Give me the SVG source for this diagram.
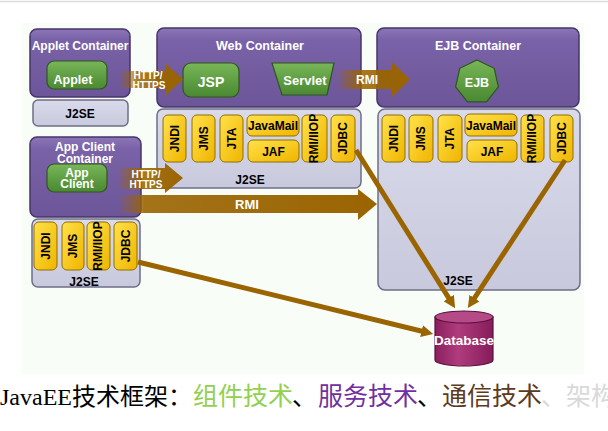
<svg xmlns="http://www.w3.org/2000/svg" width="608" height="431" viewBox="0 0 608 431">
<defs>
<linearGradient id="gPurple" x1="0" y1="0" x2="0" y2="1"><stop offset="0" stop-color="#8c76b6"/><stop offset="0.15" stop-color="#7a62a8"/><stop offset="1" stop-color="#6d5599"/></linearGradient>
<linearGradient id="gPanel" x1="0" y1="0" x2="0" y2="1"><stop offset="0" stop-color="#dadaec"/><stop offset="1" stop-color="#c9c9dd"/></linearGradient>
<linearGradient id="gChip" x1="0" y1="0" x2="1" y2="1"><stop offset="0" stop-color="#ffe24a"/><stop offset="1" stop-color="#f0b400"/></linearGradient>
<linearGradient id="gGreen" x1="0" y1="0" x2="0" y2="1"><stop offset="0" stop-color="#78b658"/><stop offset="1" stop-color="#4a8832"/></linearGradient>
<linearGradient id="gDb" x1="0" y1="0" x2="1" y2="0"><stop offset="0" stop-color="#8a1f5e"/><stop offset="0.4" stop-color="#b03c7c"/><stop offset="1" stop-color="#851c5a"/></linearGradient>
<linearGradient id="gArrow" x1="0" y1="0" x2="1" y2="0"><stop offset="0" stop-color="#9a6400" stop-opacity="0"/><stop offset="0.3" stop-color="#9a6400" stop-opacity="0.85"/><stop offset="1" stop-color="#9a6400"/></linearGradient>
<linearGradient id="gArrowLong" x1="0" y1="0" x2="1" y2="0"><stop offset="0" stop-color="#9a6400" stop-opacity="0"/><stop offset="0.1" stop-color="#9a6400" stop-opacity="0.9"/><stop offset="1" stop-color="#9a6400"/></linearGradient>
<marker id="ah" viewBox="0 0 10 10" refX="4" refY="5" markerWidth="12" markerHeight="12" markerUnits="userSpaceOnUse" orient="auto"><path d="M0,0 L10,5 L0,10 z" fill="#9a6400"/></marker>
<style>
.box{fill:url(#gPurple);stroke:#45356a;stroke-width:1.5}
.panel{fill:url(#gPanel);stroke:#6e6e88;stroke-width:1.5}
.chip{fill:url(#gChip);stroke:#8f6f00;stroke-width:1}
.btn{fill:url(#gGreen);stroke:#2e5620;stroke-width:1.2}
.wt{font-family:"Liberation Sans",Arial,sans-serif;font-weight:bold;fill:#fff;text-anchor:middle}
.bt{font-family:"Liberation Sans",Arial,sans-serif;font-weight:bold;fill:#000;text-anchor:middle}
.ct{font-family:"Liberation Sans",Arial,sans-serif;font-weight:bold;fill:#000;text-anchor:middle;font-size:12px}
.arr{fill:url(#gArrow)}
.jdbc{stroke:#9a6400;stroke-width:5;fill:none;marker-end:url(#ah)}
.cap{font-family:"Liberation Serif","Noto Sans CJK SC",serif;font-size:25px}
</style>
</defs>
<rect x="0" y="0" width="608" height="431" fill="#ffffff"/>
<line x1="0" y1="1.5" x2="608" y2="1.5" stroke="#dddddd" stroke-width="1.5"/>
<rect x="22" y="23" width="562" height="351" fill="#f8fdf7"/>

<g id="applet-container">
<rect class="box" x="30" y="29" width="100" height="68" rx="7"/>
<text class="wt" x="80" y="49.5" font-size="12">Applet Container</text>
<rect class="btn" x="47" y="61" width="60" height="28" rx="7"/>
<text class="wt" x="73" y="84" font-size="12.5">Applet</text>
<rect class="panel" x="33" y="100" width="95" height="26" rx="5"/>
<text class="bt" x="80" y="118" font-size="12">J2SE</text>
</g>

<g id="web-container">
<rect class="box" x="157" y="28" width="204" height="79" rx="7"/>
<text class="wt" x="260" y="49.5" font-size="12.5">Web Container</text>
<rect class="btn" x="183" y="63" width="56" height="34" rx="8"/>
<text class="wt" x="211" y="87" font-size="14">JSP</text>
<polygon class="btn" points="272,63 334,63 327,95 282,95"/>
<text class="wt" x="305" y="84.5" font-size="13">Servlet</text>
<rect class="panel" x="157" y="109" width="204" height="79" rx="6"/>
<rect class="chip" x="163" y="115" width="23" height="47" rx="5"/>
<text class="ct" font-size="12.5" transform="translate(174.5,138.5) rotate(-90)" dy="4.3">JNDI</text>
<rect class="chip" x="192" y="115" width="23" height="47" rx="5"/>
<text class="ct" transform="translate(203.5,138.5) rotate(-90)" dy="4.3">JMS</text>
<rect class="chip" x="220" y="115" width="23" height="47" rx="5"/>
<text class="ct" transform="translate(231.5,138.5) rotate(-90)" dy="4.3">JTA</text>
<rect class="chip" x="247" y="115" width="52" height="21" rx="5"/>
<text class="ct" font-size="12.5" x="273" y="130">JavaMail</text>
<rect class="chip" x="248" y="140" width="51" height="22" rx="5"/>
<text class="ct" x="273.5" y="155.5">JAF</text>
<rect class="chip" x="302" y="115" width="25" height="47" rx="5"/>
<text class="ct" font-size="10.5" transform="translate(314.5,138.5) rotate(-90)" dy="3.8">RMI/IIOP</text>
<rect class="chip" x="331" y="115" width="24" height="47" rx="5"/>
<text class="ct" transform="translate(343,138.5) rotate(-90)" dy="4.3">JDBC</text>
<text class="bt" x="250" y="183.5" font-size="12">J2SE</text>
</g>

<g id="ejb-container">
<rect class="box" x="377" y="28" width="202" height="79" rx="7"/>
<text class="wt" x="478" y="49.5" font-size="12.5">EJB Container</text>
<polygon class="btn" points="477,60 494.2,68.3 498.4,86.9 486.5,101.8 467.5,101.8 455.6,86.9 459.8,68.3"/>
<text class="wt" x="477" y="86.5" font-size="12.5">EJB</text>
<rect class="panel" x="378" y="109" width="202" height="181" rx="7"/>
<rect class="chip" x="382" y="115" width="23" height="47" rx="5"/>
<text class="ct" font-size="12.5" transform="translate(393.5,138.5) rotate(-90)" dy="4.3">JNDI</text>
<rect class="chip" x="409" y="115" width="24" height="47" rx="5"/>
<text class="ct" transform="translate(421,138.5) rotate(-90)" dy="4.3">JMS</text>
<rect class="chip" x="438" y="115" width="24" height="47" rx="5"/>
<text class="ct" transform="translate(450,138.5) rotate(-90)" dy="4.3">JTA</text>
<rect class="chip" x="465" y="114" width="52" height="22" rx="5"/>
<text class="ct" font-size="12.5" x="491" y="129.5">JavaMail</text>
<rect class="chip" x="467" y="140" width="50" height="22" rx="5"/>
<text class="ct" x="492" y="155.5">JAF</text>
<rect class="chip" x="521" y="115" width="23" height="47" rx="5"/>
<text class="ct" font-size="10.5" transform="translate(532.5,138.5) rotate(-90)" dy="3.8">RMI/IIOP</text>
<rect class="chip" x="550" y="115" width="23" height="47" rx="5"/>
<text class="ct" transform="translate(561.5,138.5) rotate(-90)" dy="4.3">JDBC</text>
<text class="bt" x="458" y="284.5" font-size="12">J2SE</text>
</g>

<g id="app-client-container">
<rect class="box" x="30" y="137" width="111" height="80" rx="7"/>
<text class="wt" x="85" y="151" font-size="12">App Client</text>
<text class="wt" x="85" y="162.5" font-size="12">Container</text>
<rect class="btn" x="47" y="164" width="60" height="28" rx="7"/>
<text class="wt" x="77" y="176.5" font-size="12">App</text>
<text class="wt" x="77" y="188" font-size="12">Client</text>
<rect class="panel" x="32" y="219" width="108" height="68" rx="6"/>
<rect class="chip" x="34" y="222" width="23" height="48" rx="5"/>
<text class="ct" font-size="12.5" transform="translate(45.5,246) rotate(-90)" dy="4.3">JNDI</text>
<rect class="chip" x="62" y="222" width="22" height="48" rx="5"/>
<text class="ct" transform="translate(73,246) rotate(-90)" dy="4.3">JMS</text>
<rect class="chip" x="87" y="222" width="23" height="48" rx="5"/>
<text class="ct" font-size="10.5" transform="translate(98.5,246) rotate(-90)" dy="3.8">RMI/IIOP</text>
<rect class="chip" x="114" y="222" width="23" height="48" rx="5"/>
<text class="ct" transform="translate(125.5,246) rotate(-90)" dy="4.3">JDBC</text>
<text class="bt" x="84" y="285.5" font-size="12">J2SE</text>
</g>

<g id="database">
<path d="M435,317 V360 A29,6 0 0 0 493,360 V317 Z" fill="url(#gDb)" stroke="#5a0f3e" stroke-width="1.2"/>
<ellipse cx="464" cy="317" rx="29" ry="6" fill="#b44a86" stroke="#5a0f3e" stroke-width="1.2"/>
<text class="wt" x="464" y="345" font-size="13.5">Database</text>
</g>

<g id="connectors">
<polygon class="arr" points="118,71 166,71 166,64 183,79.5 166,95 166,88 118,88"/>
<text class="wt" x="148" y="78.5" font-size="10">HTTP/</text>
<text class="wt" x="149" y="89" font-size="10">HTTPS</text>
<polygon class="arr" points="336,70 392,70 392,62 410,79.5 392,97 392,89 336,89"/>
<text class="wt" x="367" y="84" font-size="12">RMI</text>
<polygon class="arr" points="117,168 165,168 165,163 183,178 165,193 165,189 117,189"/>
<text class="wt" x="146" y="178" font-size="10">HTTP/</text>
<text class="wt" x="146" y="188" font-size="10">HTTPS</text>
<polygon fill="url(#gArrowLong)" points="118,195 358,195 358,189 377,204 358,220 358,213 118,213"/>
<text class="wt" x="247" y="208.5" font-size="13">RMI</text>
<path class="jdbc" d="M356,150 L451.3,302.1"/>
<path class="jdbc" d="M565,160 L471.8,302.1"/>
<path class="jdbc" d="M138,262 L426.2,332.3"/>
</g>

<text class="cap" y="405"><tspan x="0" fill="#000000" font-size="24">JavaEE技术框架：</tspan><tspan x="193" fill="#92d050">组件技术</tspan><tspan x="292" fill="#000000">、</tspan><tspan x="318" fill="#7030a0">服务技术</tspan><tspan x="417" fill="#000000">、</tspan><tspan x="442" fill="#5c3a1c">通信技术</tspan><tspan x="541" fill="#d9d9d9">、</tspan><tspan x="566" fill="#d9d9d9">架构</tspan></text>
</svg>
